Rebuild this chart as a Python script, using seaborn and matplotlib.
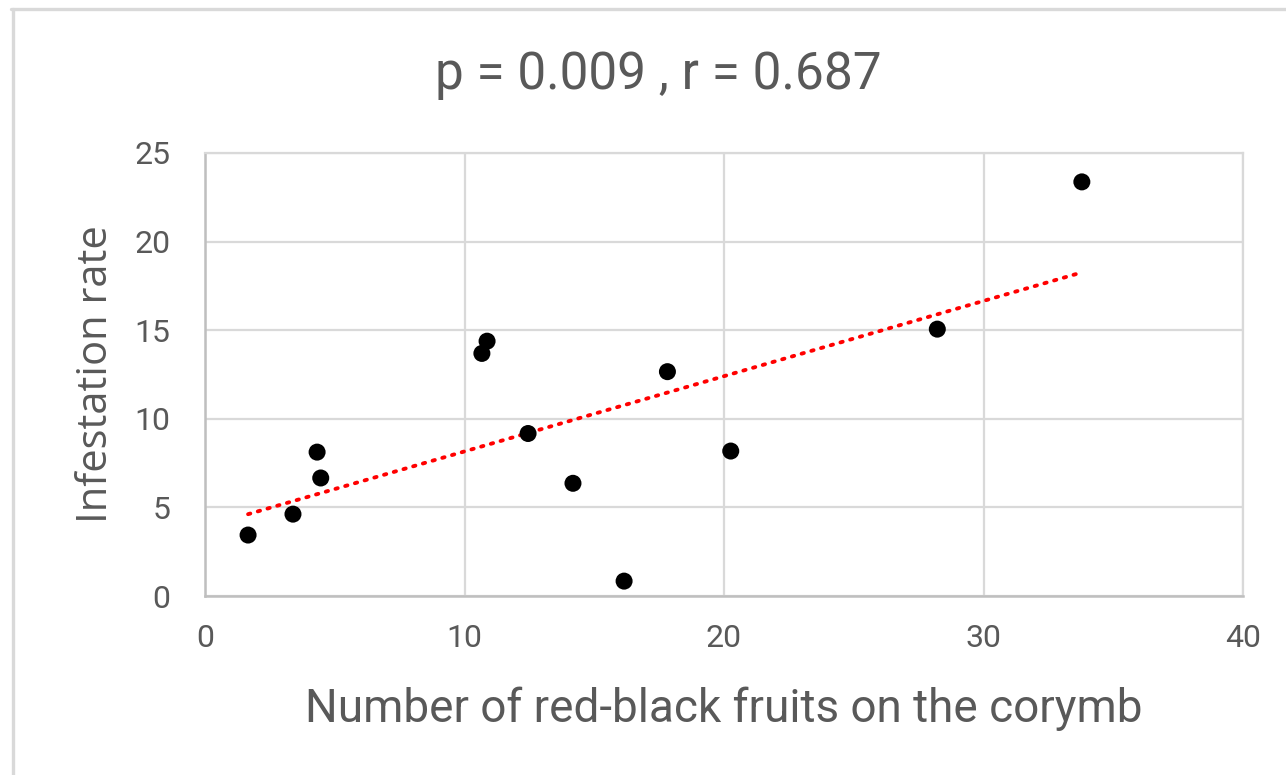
import matplotlib
matplotlib.use("Agg")
import matplotlib.pyplot as plt
from matplotlib import font_manager
from matplotlib.lines import Line2D
import numpy as np
import pandas as pd
import seaborn as sns

# Observations: red-black fruits per corymb vs. infestation rate
fruits = [1.66, 3.39, 4.32, 4.46, 10.67, 10.87, 12.45, 14.18, 16.15, 17.82, 20.26, 28.22, 33.79]
infestation = [3.44, 4.62, 8.12, 6.66, 13.69, 14.38, 9.17, 6.36, 0.84, 12.66, 8.18, 15.06, 23.37]

x_ticks = [0, 10, 20, 30, 40]
y_ticks = [0, 5, 10, 15, 20, 25]
title_text = "p = 0.009 , r = 0.687"
x_label = "Number of red-black fruits on the corymb"
y_label = "Infestation rate"

df = pd.DataFrame({"fruits": fruits, "infestation": infestation})

sns.set_theme(style="whitegrid")

installed = {f.name for f in font_manager.fontManager.ttflist}
def pick(*names):
    for n in names:
        if n in installed:
            return n
    return "DejaVu Sans"

narrow = pick("Liberation Sans Narrow", "Roboto", "Liberation Sans")
wide = pick("Open Sans", "Noto Sans", "DejaVu Sans")
plt.rcParams["font.family"] = [narrow, "DejaVu Sans"]

text_color = "#595959"
grid_color = "#d9d9d9"

fig = plt.figure(figsize=(12.86, 7.75), dpi=100)
ax = fig.add_axes([205 / 1286, 179 / 775, 1038 / 1286, 443 / 775])

sns.regplot(
    data=df, x="fruits", y="infestation", ax=ax, ci=None,
    scatter_kws=dict(s=150, color="black", edgecolor="none", alpha=1, zorder=3),
    line_kws=dict(color="#ff0000", lw=2.8, linestyle=(0, (0.6, 2.0)),
                  dash_capstyle="round", zorder=2),
)

ax.set_xlim(0, 40)
ax.set_ylim(0, 25)
ax.set_xticks(x_ticks)
ax.set_yticks(y_ticks)
ax.grid(True, color=grid_color, lw=1.6)
ax.set_axisbelow(True)
for side in ["top", "right"]:
    ax.spines[side].set_color(grid_color)
    ax.spines[side].set_linewidth(1.6)
for side in ["left", "bottom"]:
    ax.spines[side].set_color("#bfbfbf")
    ax.spines[side].set_linewidth(1.8)

ax.tick_params(axis="both", length=0, labelsize=23, labelcolor=text_color)
ax.tick_params(axis="x", pad=20)
ax.tick_params(axis="y", pad=25)
for lbl in ax.get_yticklabels() + ax.get_xticklabels():
    lbl.set_fontfamily([narrow, "DejaVu Sans"])

ax.set_xlabel(x_label, fontsize=33, color=text_color, labelpad=24)
ax.set_ylabel(y_label, fontsize=30, color=text_color, labelpad=12,
              fontfamily=[wide, "DejaVu Sans"])
fig.text(658 / 1286, 1 - 75 / 775, title_text, fontsize=37, color=text_color,
         ha="center", va="center")

# Light frame around the chart area
fig.add_artist(Line2D([12.5 / 1286, 12.5 / 1286], [0, 1 - 8.5 / 775],
                      transform=fig.transFigure, color=grid_color, lw=2.4))
fig.add_artist(Line2D([11 / 1286, 1], [1 - 8.5 / 775, 1 - 8.5 / 775],
                      transform=fig.transFigure, color=grid_color, lw=2.4))

fig.savefig("out.png", dpi=100, facecolor="white")
